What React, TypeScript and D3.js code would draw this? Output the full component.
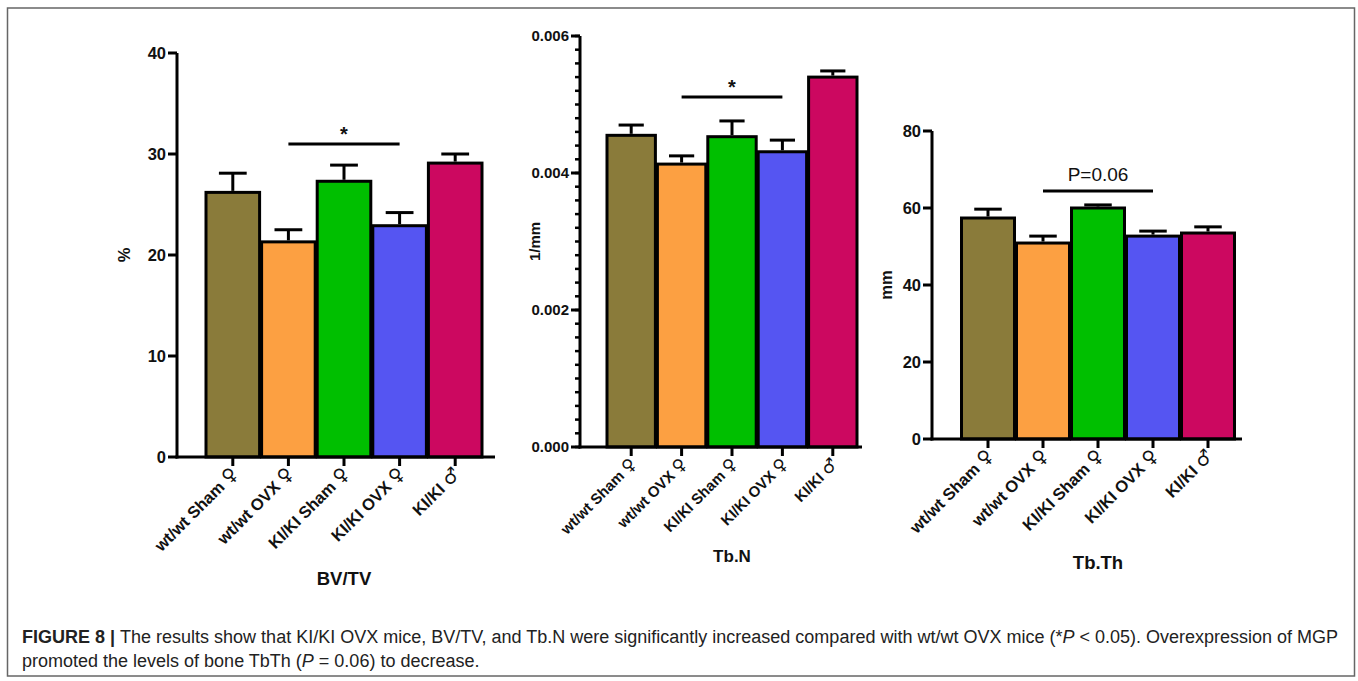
import React from "react";
import * as d3 from "d3";

const categories = ["wt/wt Sham ♀", "wt/wt OVX ♀", "KI/KI Sham ♀", "KI/KI OVX ♀", "KI/KI ♂"];
const barColors = ["#8a7b3a", "#fca042", "#00bf00", "#5555f2", "#cc0860"];

const bvtvMean = [26.2, 21.3, 27.3, 22.9, 29.1];
const bvtvSem = [1.9, 1.2, 1.6, 1.3, 0.9];
const bvtvTicks = [0, 10, 20, 30, 40];

const tbnMean = [0.00455, 0.00413, 0.00453, 0.00431, 0.0054];
const tbnSem = [0.00015, 0.00012, 0.00023, 0.00017, 0.00009];
const tbnTicks = [0, 0.002, 0.004, 0.006];

const tbthMean = [57.4, 50.9, 60.0, 52.7, 53.5];
const tbthSem = [2.3, 1.8, 0.8, 1.3, 1.6];
const tbthTicks = [0, 20, 40, 60, 80];

const sigBvtv = { from: 1, to: 3, value: 31.0, label: "*" };
const sigTbn = { from: 1, to: 3, value: 0.00511, label: "*" };
const sigTbth = { from: 1, to: 3, value: 64.4, label: "P=0.06" };

const FONT = "'Liberation Sans', Arial, Helvetica, sans-serif";

type PanelProps = {
  left: number; axisEnd: number; barStart: number; barEnd: number;
  yBottom: number; yTop: number; domain: [number, number];
  ticks: number[]; minor: boolean; fmt: (v: number) => string;
  means: number[]; sems: number[];
  sig: { from: number; to: number; value: number; label: string };
  yLabel: string; yLabelX: number; title: string; titleY: number;
  fs: number; xfs: number;
};

function CatLabel({ text }: { text: string }) {
  const parts = text.split(" ");
  const sym = parts[parts.length - 1];
  const rest = parts.slice(0, -1).join(" ") + " ";
  return (
    <>
      <tspan>{rest}</tspan>
      <tspan fontFamily="'DejaVu Sans', sans-serif" fontSize="1.15em">{sym}</tspan>
    </>
  );
}

function Panel(p: PanelProps) {
  const x = d3.scaleBand<string>().domain(categories).range([p.barStart, p.barEnd]).paddingInner(0).paddingOuter(0);
  const y = d3.scaleLinear().domain(p.domain).range([p.yBottom, p.yTop]);
  const step = x.step();
  const capW = step * 0.5;
  const minorTicks = p.minor ? y.ticks(30) : [];
  const cx = (i: number) => (x(categories[i]) as number) + step / 2;
  const sigY = y(p.sig.value);
  const sigMid = (cx(p.sig.from) + cx(p.sig.to)) / 2;
  return (
    <g fontFamily={FONT}>
      {categories.map((c, i) => (
        <rect key={c} x={(x(c) as number) + 1} y={y(p.means[i])} width={step - 2}
          height={y(0) - y(p.means[i])} fill={barColors[i]} stroke="#000" strokeWidth={3} />
      ))}
      {categories.map((c, i) => (
        <g key={"e" + c} stroke="#000" strokeWidth={3}>
          <line x1={cx(i)} x2={cx(i)} y1={y(p.means[i]) - 1.5} y2={y(p.means[i] + p.sems[i])} />
          <line x1={cx(i) - capW / 2} x2={cx(i) + capW / 2} y1={y(p.means[i] + p.sems[i])} y2={y(p.means[i] + p.sems[i])} />
        </g>
      ))}
      <line x1={p.left} x2={p.left} y1={y(p.domain[0]) + 1.5} y2={y(p.domain[1])} stroke="#000" strokeWidth={3} />
      <line x1={p.left - 1.5} x2={p.axisEnd} y1={y(0)} y2={y(0)} stroke="#000" strokeWidth={3} />
      {minorTicks.map((t) => (
        <line key={"m" + t} x1={p.left - 5} x2={p.left} y1={y(t)} y2={y(t)} stroke="#000" strokeWidth={2.5} />
      ))}
      {p.ticks.map((t) => (
        <g key={"t" + t}>
          <line x1={p.left - 9} x2={p.left} y1={y(t)} y2={y(t)} stroke="#000" strokeWidth={3} />
          <text x={p.left - 11} y={y(t)} dy="0.36em" textAnchor="end" fontWeight="bold" fontSize={p.fs} fill="#111">
            {p.fmt(t)}
          </text>
        </g>
      ))}
      {categories.map((c, i) => (
        <g key={"x" + c}>
          <line x1={cx(i)} x2={cx(i)} y1={y(0)} y2={y(0) + 9} stroke="#000" strokeWidth={3} />
          <text transform={`translate(${cx(i) + 6},${y(0) + 18}) rotate(-45)`} textAnchor="end"
            fontWeight="bold" fontSize={p.xfs} fill="#111"><CatLabel text={c} /></text>
        </g>
      ))}
      <line x1={cx(p.sig.from)} x2={cx(p.sig.to)} y1={sigY} y2={sigY} stroke="#000" strokeWidth={3} />
      {p.sig.label === "*" ? (
        <text x={sigMid} y={sigY - 3} textAnchor="middle" fontWeight="bold" fontSize={20} fill="#111">*</text>
      ) : (
        <text x={sigMid} y={sigY - 10} textAnchor="middle" fontSize={19} fill="#111">{p.sig.label}</text>
      )}
      <text transform={`translate(${p.yLabelX},${(p.yBottom + p.yTop) / 2}) rotate(-90)`} textAnchor="middle"
        dy="0.35em" fontWeight="bold" fontSize={p.fs} fill="#111">{p.yLabel}</text>
      <text x={cx(2)} y={p.titleY} textAnchor="middle" fontWeight="bold" fontSize={p.fs + 2} fill="#111">{p.title}</text>
    </g>
  );
}

export default function App() {
  return (
    <svg width={1358} height={681} style={{ position: "absolute", left: 0, top: 0, background: "#fff" }}>
      <rect x={7.5} y={8} width={1347} height={668} fill="#fff" stroke="#666" strokeWidth={1.5} />
      <Panel left={177} axisEnd={495} barStart={205} barEnd={483} yBottom={457} yTop={53} domain={[0, 40]}
        ticks={bvtvTicks} minor={false} fmt={d3.format("d")} means={bvtvMean} sems={bvtvSem} sig={sigBvtv}
        yLabel="%" yLabelX={124} title="BV/TV" titleY={585} fs={16.5} xfs={16.5} />
      <Panel left={580} axisEnd={862} barStart={606} barEnd={858} yBottom={447} yTop={36} domain={[0, 0.006]}
        ticks={tbnTicks} minor={true} fmt={d3.format(".3f")} means={tbnMean} sems={tbnSem} sig={sigTbn}
        yLabel="1/mm" yLabelX={535} title="Tb.N" titleY={562} fs={15} xfs={15} />
      <Panel left={932} axisEnd={1242} barStart={960.5} barEnd={1235.5} yBottom={439} yTop={131} domain={[0, 80]}
        ticks={tbthTicks} minor={false} fmt={d3.format("d")} means={tbthMean} sems={tbthSem} sig={sigTbth}
        yLabel="mm" yLabelX={886} title="Tb.Th" titleY={569} fs={16.5} xfs={16.5} />
      <g fontFamily={FONT} fontSize={18} fill="#222">
        <text x={22} y={643}>
          <tspan fontWeight="bold">FIGURE 8 | </tspan>
          <tspan>The results show that KI/KI OVX mice, BV/TV, and Tb.N were significantly increased compared with wt/wt OVX mice (*</tspan>
          <tspan fontStyle="italic">P</tspan>
          <tspan> &lt; 0.05). Overexpression of MGP</tspan>
        </text>
        <text x={22} y={667}>
          <tspan>promoted the levels of bone TbTh (</tspan>
          <tspan fontStyle="italic">P</tspan>
          <tspan> = 0.06) to decrease.</tspan>
        </text>
      </g>
    </svg>
  );
}
